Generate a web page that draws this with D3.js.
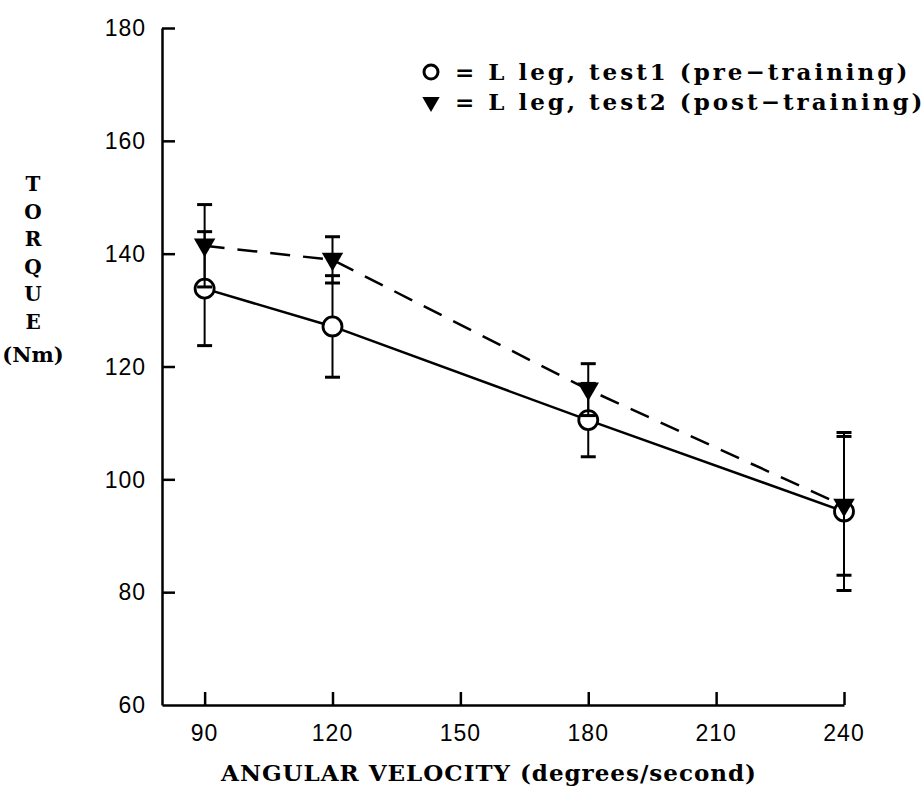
<!DOCTYPE html>
<html>
<head>
<meta charset="utf-8">
<script src="https://cdn.jsdelivr.net/npm/d3@7"></script>
<style>
  html, body { margin: 0; padding: 0; background: #fff; }
  svg { display: block; }
  .tick-label { font-family: "Liberation Sans", Arial, sans-serif; font-size: 23px; letter-spacing: 1px; fill: #000; }
  .serif { font-family: "DejaVu Serif", serif; font-weight: bold; fill: #000; }
</style>
</head>
<body>
<div id="chart"></div>
<script>
// Isokinetic torque vs angular velocity, L leg pre/post training

const velocities = [90, 120, 180, 240];
const preMean  = [133.8, 127.1, 110.5, 94.3];
const preSd    = [10.1, 9.0, 6.5, 14.0];
const postMean = [141.4, 138.9, 115.9, 95.3];
const postSd   = [7.3, 4.1, 4.6, 12.3];

const xTicks = [90, 120, 150, 180, 210, 240];
const yTicks = [60, 80, 100, 120, 140, 160, 180];
const yLabelLetters = ['T', 'O', 'R', 'Q', 'U', 'E'];

const legendItems = [
    { symbol: 'circle',   label: '= L leg, test1 (pre\u2212training)' },
    { symbol: 'triangle', label: '= L leg, test2 (post\u2212training)' },
];

const width = 924, height = 790;
const margin = { top: 28, right: 80, bottom: 85, left: 162 };

const svg = d3.select('#chart').append('svg')
    .attr('width', width).attr('height', height);

const x = d3.scaleLinear().domain([80, 240]).range([margin.left, width - margin.right]);
const y = d3.scaleLinear().domain([60, 180]).range([height - margin.bottom, margin.top]);

const pre  = velocities.map((v, i) => ({ v, m: preMean[i],  sd: preSd[i] }));
const post = velocities.map((v, i) => ({ v, m: postMean[i], sd: postSd[i] }));

// Axes (ticks point inward)
const yAxis = svg.append('g')
    .attr('transform', `translate(${margin.left},0)`)
    .call(d3.axisRight(y).tickValues(yTicks).tickSize(13).tickSizeOuter(0).tickFormat(''));
const xAxis = svg.append('g')
    .attr('transform', `translate(0,${y(60)})`)
    .call(d3.axisTop(x).tickValues(xTicks).tickSize(13).tickSizeOuter(0).tickFormat(''));
[yAxis, xAxis].forEach(g => {
    g.select('.domain').attr('stroke', '#000').attr('stroke-width', 2.5);
    g.selectAll('.tick line').attr('stroke', '#000').attr('stroke-width', 2.5);
});
// the 60 tick would sit on the x axis
yAxis.selectAll('.tick').filter(d => d === 60).select('line').remove();

svg.append('g').selectAll('text').data(yTicks).join('text')
    .attr('class', 'tick-label')
    .attr('x', margin.left - 16).attr('y', d => y(d))
    .attr('dy', '0.36em').attr('text-anchor', 'end')
    .text(d => d);

svg.append('g').selectAll('text').data(xTicks).join('text')
    .attr('class', 'tick-label')
    .attr('x', d => x(d)).attr('y', y(60) + 36)
    .attr('text-anchor', 'middle')
    .text(d => d);

// Axis titles
svg.append('text').attr('class', 'serif')
    .attr('x', 489).attr('y', 781)
    .attr('text-anchor', 'middle').attr('font-size', 23).attr('letter-spacing', 1)
    .text('ANGULAR VELOCITY (degrees/second)');

svg.append('g').selectAll('text').data(yLabelLetters).join('text')
    .attr('class', 'serif').attr('font-size', 20)
    .attr('x', 33).attr('y', (d, i) => 191 + i * 27.6)
    .attr('text-anchor', 'middle')
    .text(d => d);
svg.append('text').attr('class', 'serif').attr('font-size', 21)
    .attr('x', 33).attr('y', 362).attr('text-anchor', 'middle')
    .text('(Nm)');

// Lines
const line = d3.line().x(d => x(d.v)).y(d => y(d.m));
svg.append('path').datum(pre)
    .attr('fill', 'none').attr('stroke', '#000').attr('stroke-width', 2.5)
    .attr('d', line);
svg.append('path').datum(post)
    .attr('fill', 'none').attr('stroke', '#000').attr('stroke-width', 2.5)
    .attr('stroke-dasharray', '20,13')
    .attr('d', line);

function errorBars(data) {
    const g = svg.append('g').attr('stroke', '#000');
    g.selectAll('line.v').data(data).join('line')
        .attr('x1', d => x(d.v)).attr('x2', d => x(d.v))
        .attr('y1', d => y(d.m + d.sd)).attr('y2', d => y(d.m - d.sd))
        .attr('stroke-width', 2);
    [1, -1].forEach(s => {
        g.selectAll(null).data(data).join('line')
            .attr('x1', d => x(d.v) - 7.5).attr('x2', d => x(d.v) + 7.5)
            .attr('y1', d => y(d.m + s * d.sd)).attr('y2', d => y(d.m + s * d.sd))
            .attr('stroke-width', 3);
    });
}

const tri = d3.symbol().type(d3.symbolTriangle).size(200);

// pre: error bars then circles
errorBars(pre);
svg.append('g').selectAll('circle').data(pre).join('circle')
    .attr('cx', d => x(d.v)).attr('cy', d => y(d.m)).attr('r', 9.5)
    .attr('fill', '#fff').attr('stroke', '#000').attr('stroke-width', 2.8);

// post: error bars then triangles
errorBars(post);
svg.append('g').selectAll('path').data(post).join('path')
    .attr('transform', d => `translate(${x(d.v)},${y(d.m) - 1}) rotate(180)`)
    .attr('d', tri).attr('fill', '#000');

// Legend
const legend = svg.append('g');
legendItems.forEach((item, i) => {
    const ly = 72 + i * 30;
    if (item.symbol === 'circle') {
        legend.append('circle').attr('cx', 431).attr('cy', ly).attr('r', 7)
            .attr('fill', '#fff').attr('stroke', '#000').attr('stroke-width', 3);
    } else {
        legend.append('path').attr('d', d3.symbol().type(d3.symbolTriangle).size(130))
            .attr('transform', `translate(431,${ly}) rotate(180)`).attr('fill', '#000');
    }
    legend.append('text').attr('class', 'serif').attr('font-size', 23).attr('letter-spacing', 3)
        .attr('x', 455).attr('y', ly + 8).text(item.label);
});
</script>
</body>
</html>
